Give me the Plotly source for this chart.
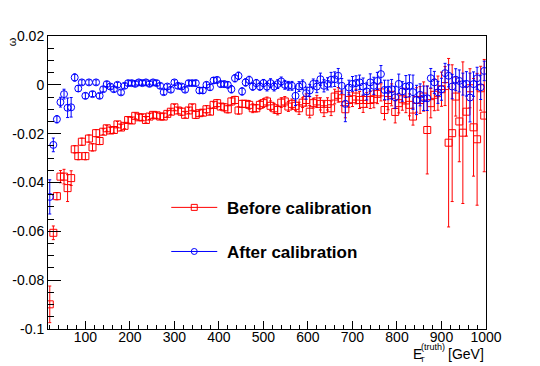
import plotly.graph_objects as go

# bin centres (GeV)
et_truth = [
    20, 28, 36, 44, 52, 60, 68, 76, 84, 92, 100, 108, 116, 124, 132, 140, 148, 156, 164, 172,
    180, 188, 196, 204, 212, 220, 228, 236, 244, 252, 260, 268, 276, 284, 292, 300, 308, 316, 324, 332,
    340, 348, 356, 364, 372, 380, 388, 396, 404, 412, 420, 428, 436, 444, 452, 460, 468, 476, 484, 492,
    500, 508, 516, 524, 532, 540, 548, 556, 564, 572, 580, 588, 596, 604, 612, 620, 628, 636, 644, 652,
    660, 668, 676, 684, 692, 700, 708, 716, 724, 732, 740, 748, 756, 764, 772, 780, 788, 796, 804, 812,
    820, 828, 836, 844, 852, 860, 868, 876, 884, 892, 900, 908, 916, 924, 932, 940, 948, 956, 964, 972,
    980, 988, 996,
]

omega_before = [
    -0.0899, -0.0606, -0.0456, -0.0376, -0.0376, -0.0423, -0.0382, -0.0264, -0.0292, -0.0233,
    -0.0292, -0.0220, -0.0256, -0.0198, -0.0230, -0.0192, -0.0178, -0.0187, -0.0185, -0.0162,
    -0.0175, -0.0168, -0.0144, -0.0146, -0.0127, -0.0133, -0.0133, -0.0144, -0.0130, -0.0123,
    -0.0125, -0.0130, -0.0130, -0.0119, -0.0110, -0.0092, -0.0105, -0.0110, -0.0123, -0.0105,
    -0.0092, -0.0123, -0.0116, -0.0114, -0.0100, -0.0110, -0.0082, -0.0075, -0.0089, -0.0092,
    -0.0100, -0.0068, -0.0062, -0.0105, -0.0078, -0.0078, -0.0082, -0.0096, -0.0096, -0.0082,
    -0.0075, -0.0068, -0.0086, -0.0096, -0.0103, -0.0073, -0.0068, -0.0089, -0.0078, -0.0086,
    -0.0096, -0.0073, -0.0062, -0.0110, -0.0075, -0.0068, -0.0078, -0.0100, -0.0078, -0.0096,
    -0.0048, -0.0041, -0.0055, -0.0100, -0.0062, -0.0059, -0.0048, -0.0062, -0.0078, -0.0062,
    -0.0062, -0.0059, -0.0037, -0.0031, -0.0103, -0.0062, -0.0041, -0.0111, -0.0075, -0.0059,
    -0.0064, -0.0082, -0.0130, -0.0062, -0.0062, -0.0048, -0.0185, -0.0075, -0.0041, -0.0034,
    -0.0018, -0.0005, -0.0237, -0.0198, -0.0048, -0.0150, -0.0196, -0.0110, -0.0014, -0.0174,
    -0.0223, -0.0014, -0.0126,
]
err_before = [
    0.0075, 0.0028, 0.0015, 0.0025, 0.0030, 0.0055, 0.0030, 0.0015, 0.0015, 0.0015,
    0.0015, 0.0015, 0.0015, 0.0015, 0.0015, 0.0012, 0.0012, 0.0012, 0.0012, 0.0012,
    0.0012, 0.0012, 0.0012, 0.0012, 0.0012, 0.0012, 0.0012, 0.0012, 0.0012, 0.0012,
    0.0012, 0.0012, 0.0012, 0.0012, 0.0012, 0.0012, 0.0012, 0.0015, 0.0012, 0.0012,
    0.0012, 0.0015, 0.0012, 0.0012, 0.0015, 0.0012, 0.0012, 0.0015, 0.0012, 0.0015,
    0.0015, 0.0015, 0.0015, 0.0015, 0.0015, 0.0015, 0.0018, 0.0018, 0.0015, 0.0018,
    0.0018, 0.0018, 0.0020, 0.0020, 0.0020, 0.0020, 0.0020, 0.0020, 0.0020, 0.0020,
    0.0025, 0.0020, 0.0025, 0.0025, 0.0020, 0.0025, 0.0025, 0.0030, 0.0025, 0.0030,
    0.0030, 0.0030, 0.0030, 0.0035, 0.0030, 0.0030, 0.0030, 0.0035, 0.0035, 0.0030,
    0.0035, 0.0035, 0.0040, 0.0035, 0.0040, 0.0040, 0.0045, 0.0045, 0.0040, 0.0045,
    0.0050, 0.0045, 0.0035, 0.0050, 0.0055, 0.0060, 0.0180, 0.0060, 0.0065, 0.0070,
    0.0070, 0.0080, 0.0345, 0.0280, 0.0080, 0.0165, 0.0290, 0.0100, 0.0080, 0.0200,
    0.0270, 0.0090, 0.0230,
]

omega_after = [
    -0.0459, -0.0246, -0.0141, -0.0071, -0.0038, -0.0094, -0.0092, 0.0030, -0.0015, 0.0010,
    -0.0045, 0.0010, -0.0038, 0.0010, -0.0045, -0.0018, 0.0003, -0.0007, -0.0018, 0.0000,
    -0.0031, -0.0004, 0.0007, 0.0007, 0.0004, 0.0010, 0.0007, 0.0010, 0.0004, 0.0010,
    0.0007, -0.0004, -0.0030, -0.0007, -0.0020, 0.0010, -0.0004, -0.0007, -0.0020, 0.0007,
    0.0007, 0.0007, -0.0023, -0.0023, 0.0000, -0.0010, 0.0018, 0.0020, 0.0003, 0.0003,
    0.0000, -0.0018, 0.0027, 0.0037, -0.0027, 0.0010, 0.0020, -0.0007, 0.0007, -0.0007,
    0.0007, -0.0007, 0.0007, -0.0007, 0.0003, 0.0014, 0.0000, -0.0004, -0.0004, -0.0045,
    -0.0007, 0.0000, -0.0034, -0.0023, 0.0004, -0.0007, 0.0023, -0.0004, 0.0004, 0.0021,
    0.0023, 0.0037, -0.0004, -0.0078, -0.0011, 0.0004, 0.0007, 0.0010, -0.0007, -0.0027,
    0.0010, -0.0004, 0.0016, 0.0044, -0.0021, -0.0021, -0.0018, -0.0051, 0.0004, -0.0027,
    -0.0007, -0.0004, -0.0030, -0.0062, -0.0041, -0.0055, -0.0055, 0.0027, 0.0010, -0.0031,
    -0.0018, 0.0048, 0.0037, -0.0007, 0.0021, 0.0016, 0.0003, 0.0004, -0.0052, 0.0003,
    0.0027, -0.0010, 0.0057,
]
err_after = [
    0.0070, 0.0028, 0.0015, 0.0020, 0.0020, 0.0040, 0.0040, 0.0015, 0.0012, 0.0010,
    0.0012, 0.0010, 0.0010, 0.0010, 0.0010, 0.0010, 0.0010, 0.0010, 0.0010, 0.0010,
    0.0010, 0.0010, 0.0010, 0.0010, 0.0010, 0.0010, 0.0010, 0.0010, 0.0010, 0.0010,
    0.0010, 0.0010, 0.0010, 0.0010, 0.0010, 0.0010, 0.0010, 0.0010, 0.0010, 0.0010,
    0.0010, 0.0012, 0.0012, 0.0012, 0.0012, 0.0012, 0.0012, 0.0012, 0.0012, 0.0012,
    0.0012, 0.0015, 0.0015, 0.0015, 0.0015, 0.0015, 0.0015, 0.0015, 0.0015, 0.0015,
    0.0015, 0.0018, 0.0018, 0.0018, 0.0018, 0.0018, 0.0018, 0.0018, 0.0018, 0.0040,
    0.0020, 0.0020, 0.0025, 0.0025, 0.0020, 0.0025, 0.0025, 0.0025, 0.0025, 0.0030,
    0.0030, 0.0030, 0.0030, 0.0073, 0.0030, 0.0030, 0.0030, 0.0030, 0.0035, 0.0035,
    0.0035, 0.0035, 0.0035, 0.0035, 0.0040, 0.0040, 0.0040, 0.0045, 0.0040, 0.0040,
    0.0045, 0.0045, 0.0070, 0.0060, 0.0045, 0.0050, 0.0050, 0.0040, 0.0045, 0.0045,
    0.0045, 0.0040, 0.0045, 0.0050, 0.0045, 0.0045, 0.0045, 0.0050, 0.0100, 0.0050,
    0.0045, 0.0050, 0.0040,
]

y_ticks = [0.02, 0, -0.02, -0.04, -0.06, -0.08, -0.1]
y_ticktext = ["0.02", "0", "-0.02", "-0.04", "-0.06", "-0.08", "-0.1"]
x_ticks = [100, 200, 300, 400, 500, 600, 700, 800, 900, 1000]

RED = "#ff0000"
BLUE = "#0000ff"
FONT = "Liberation Sans, Arial, sans-serif"

fig = go.Figure()

series = [
    ("Before calibration", omega_before, err_before, RED, "square-open"),
    ("After calibration", omega_after, err_after, BLUE, "circle-open"),
]
for name, vals, errs, col, sym in series:
    fig.add_trace(go.Scatter(
        x=et_truth, y=vals, mode="markers", showlegend=False,
        marker=dict(symbol=sym, size=7, color=col, line=dict(color=col, width=1)),
        error_y=dict(type="data", array=errs, color=col, thickness=1, width=1.5),
    ))
    # legend entry (line + marker), as in the original
    fig.add_trace(go.Scatter(
        x=[None], y=[None], mode="lines+markers", name=f"<b>\u00a0{name}</b>",
        legendgroup=name,
        line=dict(color=col, width=1),
        marker=dict(symbol=sym, size=6, color=col, line=dict(color=col, width=1)),
    ))

axis_common = dict(
    showgrid=False, zeroline=False, showline=True, linecolor="black", linewidth=1,
    mirror=True, ticks="inside", tickcolor="black", tickwidth=1,
    tickfont=dict(family=FONT, size=14, color="black"),
)
fig.update_xaxes(range=[16, 1000], tickvals=x_ticks, ticklen=8, ticklabelstandoff=-5,
                 minor=dict(dtick=20, ticklen=4, ticks="inside", tickcolor="black"),
                 **axis_common)
fig.update_yaxes(range=[-0.1, 0.02], tickvals=y_ticks, ticktext=y_ticktext, ticklen=13,
                 minor=dict(dtick=0.005, ticklen=6, ticks="inside", tickcolor="black"),
                 **axis_common)

# axis titles (ROOT style: at the ends of the axes)
fig.add_annotation(text="ω", xref="paper", yref="paper", x=-0.083, y=0.981,
                   xanchor="center", yanchor="middle", textangle=-90, showarrow=False,
                   font=dict(family=FONT, size=11, color="black"))
fig.add_annotation(text="E", xref="paper", yref="paper", x=0.829, y=-0.085,
                   xanchor="left", yanchor="middle", showarrow=False,
                   font=dict(family=FONT, size=14, color="black"))
fig.add_annotation(text="T", xref="paper", yref="paper", x=0.845, y=-0.104,
                   xanchor="left", yanchor="middle", showarrow=False,
                   font=dict(family=FONT, size=8, color="black"))
fig.add_annotation(text="(truth)", xref="paper", yref="paper", x=0.846, y=-0.062,
                   xanchor="left", yanchor="middle", showarrow=False,
                   font=dict(family=FONT, size=9, color="black"))
fig.add_annotation(text="[GeV]", xref="paper", yref="paper", x=1.0, y=-0.085,
                   xanchor="right", yanchor="middle", showarrow=False,
                   font=dict(family=FONT, size=14, color="black"))

fig.update_layout(
    width=540, height=366,
    paper_bgcolor="white", plot_bgcolor="white",
    margin=dict(l=48, r=54, t=36, b=37),
    font=dict(family=FONT, color="black"),
    legend=dict(x=0.27, y=0.475, xanchor="left", yanchor="top",
                bgcolor="rgba(0,0,0,0)", font=dict(family=FONT, size=17, color="black"),
                itemwidth=46, tracegroupgap=19, traceorder="grouped"),
)

fig.write_html("out.html", config={"displayModeBar": False},
               post_script="document.body.style.margin='0px';")
